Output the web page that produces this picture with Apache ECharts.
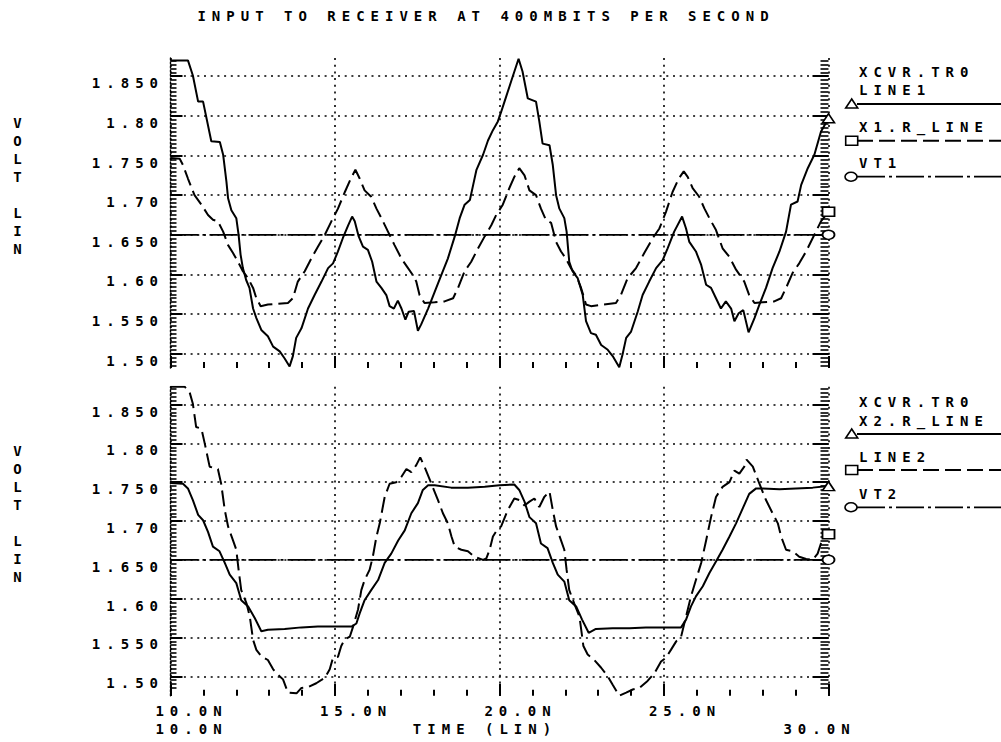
<!DOCTYPE html>
<html><head><meta charset="utf-8">
<script src="https://cdn.jsdelivr.net/npm/echarts@6/dist/echarts.min.js"></script>
<style>
html,body{margin:0;padding:0;background:#fff;}
#chart{width:1001px;height:742px;}
#chart svg text{letter-spacing:6px;}
</style></head><body><div id="chart"></div>
<script>
// ---------- data ----------
const chartTitle = 'INPUT TO RECEIVER AT 400MBITS PER SECOND';
const yAxisName = 'V\nO\nL\nT\n\nL\nI\nN\n\n\n';
const xAxisName = 'TIME (LIN)';
const xMajorVals = [10, 15, 20, 25];
const xMajorLabels = ['10.0N', '15.0N', '20.0N', '25.0N'];
const xStartVal = 10, xStartLabel = '10.0N';
const xEndVal = 30, xEndLabel = '30.0N';
const yTickVals = [1.50, 1.55, 1.60, 1.65, 1.70, 1.75, 1.80, 1.85];
const yTickLabels = ['1.50', '1.550', '1.60', '1.650', '1.70', '1.750', '1.80', '1.850'];
const yRangeTop = [1.482, 1.873];
const yRangeBottom = [1.475, 1.873];
const topNames = ['XCVR.TR0\nLINE1', 'X1.R_LINE', 'VT1'];
const bottomNames = ['XCVR.TR0\nX2.R_LINE', 'LINE2', 'VT2'];

const topLine1 = [[10,1.870],[10.53,1.870],[10.68,1.851],[10.84,1.818],[10.99,1.818],[11.24,1.768],[11.5,1.767],[11.6,1.751],[11.7,1.717],[11.75,1.696],[11.85,1.681],[12.0,1.671],[12.07,1.650],[12.13,1.625],[12.2,1.608],[12.3,1.593],[12.4,1.583],[12.51,1.557],[12.61,1.545],[12.76,1.530],[12.96,1.522],[13.12,1.509],[13.32,1.503],[13.47,1.494],[13.62,1.484],[13.72,1.497],[13.82,1.520],[13.98,1.532],[14.18,1.557],[14.38,1.574],[14.59,1.591],[14.79,1.608],[14.94,1.614],[15.09,1.629],[15.24,1.646],[15.4,1.662],[15.52,1.673],[15.6,1.667],[15.72,1.648],[15.85,1.635],[16.0,1.631],[16.13,1.616],[16.26,1.591],[16.41,1.583],[16.56,1.574],[16.66,1.560],[16.79,1.557],[16.91,1.567],[17.02,1.557],[17.14,1.543],[17.24,1.553],[17.4,1.554],[17.52,1.529],[17.62,1.537],[17.83,1.557],[18.03,1.578],[18.23,1.599],[18.43,1.620],[18.64,1.648],[18.79,1.671],[18.94,1.688],[19.1,1.694],[19.2,1.713],[19.3,1.732],[19.5,1.751],[19.65,1.769],[19.8,1.782],[19.95,1.793],[20.05,1.805],[20.2,1.824],[20.35,1.843],[20.58,1.872],[20.7,1.856],[20.86,1.822],[21.11,1.818],[21.21,1.793],[21.31,1.765],[21.52,1.763],[21.62,1.738],[21.72,1.700],[21.82,1.683],[21.97,1.671],[22.04,1.654],[22.12,1.616],[22.22,1.604],[22.38,1.595],[22.53,1.574],[22.63,1.541],[22.78,1.526],[22.93,1.524],[23.09,1.511],[23.29,1.505],[23.44,1.497],[23.64,1.483],[23.74,1.499],[23.85,1.520],[24.0,1.528],[24.2,1.553],[24.35,1.574],[24.55,1.591],[24.76,1.608],[24.96,1.618],[25.11,1.633],[25.31,1.654],[25.55,1.673],[25.67,1.658],[25.77,1.641],[25.97,1.629],[26.13,1.612],[26.28,1.587],[26.43,1.583],[26.58,1.570],[26.73,1.557],[26.88,1.566],[27.04,1.557],[27.14,1.541],[27.27,1.551],[27.41,1.555],[27.57,1.527],[27.75,1.545],[27.9,1.562],[28.1,1.583],[28.3,1.608],[28.51,1.629],[28.71,1.654],[28.86,1.688],[29.06,1.692],[29.17,1.713],[29.37,1.734],[29.57,1.751],[29.77,1.780],[30,1.797]];

const topX1 = [[10,1.747],[10.28,1.746],[10.38,1.738],[10.53,1.721],[10.73,1.700],[10.94,1.688],[11.14,1.675],[11.29,1.669],[11.44,1.667],[11.6,1.654],[11.75,1.637],[11.9,1.627],[12.05,1.616],[12.2,1.604],[12.36,1.595],[12.51,1.583],[12.61,1.570],[12.74,1.560],[12.96,1.562],[13.27,1.563],[13.57,1.564],[13.72,1.570],[13.87,1.591],[14.08,1.604],[14.28,1.620],[14.48,1.635],[14.69,1.650],[14.89,1.667],[15.09,1.683],[15.3,1.704],[15.48,1.721],[15.62,1.732],[15.75,1.721],[15.9,1.706],[16.1,1.698],[16.26,1.683],[16.41,1.671],[16.61,1.654],[16.81,1.637],[17.02,1.620],[17.22,1.608],[17.37,1.599],[17.47,1.591],[17.57,1.574],[17.72,1.564],[18.03,1.565],[18.33,1.566],[18.59,1.570],[18.74,1.583],[18.94,1.604],[19.14,1.616],[19.35,1.633],[19.55,1.648],[19.75,1.662],[19.9,1.675],[20.1,1.688],[20.3,1.709],[20.45,1.723],[20.6,1.734],[20.76,1.725],[20.91,1.706],[21.11,1.700],[21.26,1.683],[21.41,1.669],[21.57,1.665],[21.72,1.641],[21.87,1.629],[22.02,1.620],[22.17,1.608],[22.33,1.599],[22.48,1.583],[22.63,1.562],[22.78,1.560],[23.14,1.562],[23.54,1.564],[23.69,1.574],[23.89,1.595],[24.15,1.608],[24.4,1.627],[24.66,1.646],[24.86,1.658],[25.06,1.679],[25.26,1.704],[25.45,1.721],[25.6,1.730],[25.72,1.723],[25.87,1.709],[26.07,1.698],[26.23,1.683],[26.38,1.671],[26.58,1.656],[26.78,1.633],[26.99,1.622],[27.19,1.606],[27.44,1.591],[27.59,1.574],[27.75,1.564],[28.0,1.565],[28.35,1.566],[28.56,1.570],[28.71,1.583],[28.91,1.602],[29.11,1.614],[29.32,1.629],[29.57,1.650],[29.77,1.667],[30,1.679]];

const topVT1 = [[10,1.65],[30,1.65]];

const botX2 = [[10,1.749],[10.38,1.748],[10.53,1.742],[10.68,1.727],[10.84,1.708],[10.99,1.701],[11.14,1.686],[11.29,1.667],[11.49,1.661],[11.65,1.646],[11.8,1.631],[12.0,1.620],[12.15,1.598],[12.36,1.590],[12.56,1.575],[12.76,1.558],[12.96,1.560],[13.47,1.561],[13.98,1.563],[14.48,1.564],[15.0,1.564],[15.5,1.564],[15.65,1.568],[15.75,1.581],[15.9,1.598],[16.1,1.611],[16.31,1.624],[16.51,1.646],[16.71,1.658],[16.92,1.675],[17.12,1.688],[17.32,1.710],[17.52,1.723],[17.67,1.740],[17.83,1.746],[18.03,1.746],[18.53,1.743],[19.04,1.743],[19.55,1.744],[20.0,1.746],[20.45,1.747],[20.6,1.740],[20.76,1.725],[20.91,1.705],[21.11,1.697],[21.26,1.671],[21.46,1.665],[21.62,1.646],[21.77,1.631],[21.97,1.622],[22.12,1.598],[22.33,1.590],[22.51,1.573],[22.71,1.556],[22.93,1.561],[23.44,1.562],[23.95,1.562],[24.45,1.563],[24.96,1.563],[25.52,1.563],[25.67,1.573],[25.82,1.590],[25.97,1.603],[26.18,1.616],[26.38,1.633],[26.58,1.648],[26.78,1.663],[26.99,1.680],[27.19,1.697],[27.39,1.716],[27.59,1.735],[27.8,1.742],[28.0,1.742],[28.51,1.741],[29.01,1.742],[29.52,1.743],[30,1.745]];

const botLine2 = [[10,1.873],[10.43,1.873],[10.58,1.866],[10.68,1.851],[10.78,1.821],[10.94,1.819],[11.04,1.800],[11.19,1.770],[11.44,1.767],[11.54,1.748],[11.65,1.714],[11.75,1.693],[11.9,1.675],[12.0,1.663],[12.07,1.637],[12.15,1.611],[12.31,1.594],[12.41,1.577],[12.51,1.547],[12.61,1.534],[12.76,1.526],[12.96,1.521],[13.12,1.509],[13.27,1.502],[13.42,1.496],[13.57,1.479],[13.83,1.478],[13.98,1.485],[14.18,1.486],[14.43,1.491],[14.69,1.498],[14.84,1.509],[14.94,1.524],[15.09,1.525],[15.19,1.539],[15.29,1.547],[15.45,1.551],[15.55,1.564],[15.7,1.586],[15.8,1.611],[15.9,1.624],[16.05,1.637],[16.15,1.654],[16.26,1.680],[16.36,1.697],[16.51,1.731],[16.66,1.748],[16.86,1.750],[17.02,1.757],[17.17,1.767],[17.32,1.763],[17.47,1.772],[17.59,1.782],[17.72,1.770],[17.93,1.748],[18.13,1.727],[18.28,1.710],[18.43,1.697],[18.54,1.680],[18.64,1.667],[18.84,1.663],[19.04,1.661],[19.24,1.654],[19.5,1.650],[19.6,1.652],[19.7,1.663],[19.8,1.680],[19.95,1.690],[20.05,1.693],[20.25,1.714],[20.45,1.729],[20.6,1.727],[20.76,1.720],[20.91,1.725],[21.06,1.729],[21.21,1.718],[21.36,1.731],[21.52,1.738],[21.62,1.714],[21.72,1.693],[21.87,1.675],[21.97,1.663],[22.04,1.637],[22.12,1.611],[22.27,1.594],[22.43,1.577],[22.55,1.539],[22.68,1.528],[22.88,1.521],[23.09,1.511],[23.29,1.500],[23.44,1.489],[23.64,1.475],[23.85,1.479],[24.05,1.483],[24.25,1.485],[24.5,1.494],[24.71,1.504],[24.91,1.519],[25.06,1.524],[25.21,1.534],[25.37,1.545],[25.52,1.551],[25.67,1.577],[25.82,1.603],[25.97,1.624],[26.13,1.646],[26.28,1.675],[26.43,1.705],[26.58,1.731],[26.78,1.744],[26.99,1.750],[27.14,1.765],[27.29,1.761],[27.44,1.770],[27.51,1.779],[27.7,1.770],[27.9,1.748],[28.1,1.727],[28.3,1.710],[28.46,1.697],[28.56,1.680],[28.71,1.663],[28.91,1.661],[29.11,1.654],[29.32,1.651],[29.52,1.650],[29.67,1.658],[29.77,1.671],[29.87,1.680],[30,1.683]];

const botVT2 = [[10,1.65],[30,1.65]];

// ---------- styling ----------
const FONT = 'DejaVu Sans Mono';
const FONTCSS = 'bold 14px "DejaVu Sans Mono"';
const BLACK = '#000';
const txt = {fontFamily: FONT, fontWeight: 'bold', fontSize: 14, color: BLACK};
const dotted = {color: BLACK, width: 1.6, type: [2, 4.7]};
const SOLID = {color: BLACK, width: 2, type: 'solid'};
const DASH = {color: BLACK, width: 2, type: [16, 6]};
const DASHDOT = {color: BLACK, width: 1.8, type: [28, 4, 3, 4]};

const yMinorVals = [];
for (let k = 297; k <= 374; k++) yMinorVals.push(+(k * 0.005).toFixed(3));

function fmtY(v) {
  for (let i = 0; i < yTickVals.length; i++) if (Math.abs(v - yTickVals[i]) < 1e-6) return yTickLabels[i];
  return '';
}
function fmtX(v) {
  for (let i = 0; i < xMajorVals.length; i++) if (Math.abs(v - xMajorVals[i]) < 1e-6) return xMajorLabels[i];
  return '';
}

const GRID_L = 170.5, GRID_W = 658;
const grids = [
  {left: GRID_L, top: 58, width: GRID_W, height: 310, outerBoundsMode: 'none', containLabel: false},
  {left: GRID_L, top: 386.7, width: GRID_W, height: 309, outerBoundsMode: 'none', containLabel: false}
];

function xAxesFor(g, withLabels) {
  const base = {gridIndex: g, type: 'value', min: 10, max: 30, position: 'bottom',
    axisLine: {show: false, onZero: false}, splitLine: {show: false}, axisLabel: {show: false}};
  const minor = Object.assign({}, base, {interval: 1,
    axisTick: {show: true, inside: true, length: 6, lineStyle: {color: BLACK, width: 2}}});
  const major = Object.assign({}, base, {interval: 5,
    axisTick: {show: true, inside: true, length: 12, lineStyle: {color: BLACK, width: 2}},
    splitLine: {show: true, lineStyle: dotted}});
  if (withLabels) {
    major.axisLabel = Object.assign({show: true, customValues: xMajorVals, formatter: fmtX,
      margin: 8, padding: [0, 0, 0, 42]}, txt);
    major.name = xAxisName;
    major.nameLocation = 'middle';
    major.nameGap = 26;
    major.nameMoveOverlap = false;
    major.nameTextStyle = Object.assign({padding: [0, 29, 0, 0]}, txt);
  }
  return [minor, major];
}
function xRow2(g, val, label, pad) {
  return {gridIndex: g, type: 'value', min: 10, max: 30, position: 'bottom',
    axisLine: {show: false, onZero: false}, axisTick: {show: false}, splitLine: {show: false},
    axisLabel: Object.assign({show: true, customValues: [val], formatter: () => label,
      margin: 26, padding: pad}, txt)};
}
function yAxesFor(g, range) {
  const base = {gridIndex: g, type: 'value', min: range[0], max: range[1],
    splitLine: {show: false}, axisLabel: {show: false}, axisLine: {show: false}};
  return [
    Object.assign({}, base, {position: 'left',
      axisLine: {show: true, lineStyle: {color: BLACK, width: 1.4, type: [2, 2]}},
      axisTick: {show: true, inside: true, length: 12, customValues: yTickVals, lineStyle: {color: BLACK, width: 2}},
      axisLabel: Object.assign({show: true, customValues: yTickVals, formatter: fmtY, margin: 6.5,
        verticalAlign: 'top'}, txt),
      splitLine: {show: true, lineStyle: dotted},
      name: yAxisName, nameLocation: 'middle', nameGap: 150, nameRotate: 0, nameMoveOverlap: false,
      nameTextStyle: Object.assign({align: 'center', verticalAlign: 'middle', lineHeight: 18}, txt)}),
    Object.assign({}, base, {position: 'left',
      axisTick: {show: true, inside: true, length: 6, customValues: yMinorVals, lineStyle: {color: BLACK, width: 1.6}}}),
    Object.assign({}, base, {position: 'right',
      axisTick: {show: true, inside: true, length: 16, customValues: yTickVals, lineStyle: {color: BLACK, width: 2}}}),
    Object.assign({}, base, {position: 'right',
      axisTick: {show: true, inside: true, length: 8, customValues: yMinorVals, lineStyle: {color: BLACK, width: 1.6}}})
  ];
}

const xAxes = [].concat(
  xAxesFor(0, false),                      // 0,1
  xAxesFor(1, true),                       // 2,3
  [xRow2(1, xStartVal, xStartLabel, [0, 0, 0, 42]),   // 4
   xRow2(1, xEndVal, xEndLabel, [0, 18, 0, 0])]       // 5
);
const yAxes = [].concat(yAxesFor(0, yRangeTop), yAxesFor(1, yRangeBottom)); // 0-3, 4-7

function mk(name, data, xi, yi, lineStyle, sym) {
  return {
    type: 'line', name: name, xAxisIndex: xi, yAxisIndex: yi, symbol: 'none', showSymbol: true,
    silent: true, animation: false, lineStyle: lineStyle, z: 3,
    data: data.map((p, i) => i === data.length - 1
      ? {value: p, symbol: sym, symbolSize: [12, 9],
         itemStyle: {color: '#fff', borderColor: BLACK, borderWidth: 1.6}}
      : p)
  };
}

const series = [
  mk(topNames[0], topLine1, 1, 0, SOLID, 'triangle'),
  mk(topNames[1], topX1, 1, 0, DASH, 'rect'),
  mk(topNames[2], topVT1, 1, 0, DASHDOT, 'circle'),
  mk(bottomNames[0], botX2, 3, 4, SOLID, 'triangle'),
  mk(bottomNames[1], botLine2, 3, 4, DASH, 'rect'),
  mk(bottomNames[2], botVT2, 3, 4, DASHDOT, 'circle')
];

// ---------- legend (drawn as graphics, right side) ----------
function legendBlock(names, ys) {
  const els = [];
  const styles = [SOLID, DASH, DASHDOT];
  const shapes = ['triangle', 'rect', 'circle'];
  for (let i = 0; i < 3; i++) {
    const ty = ys[i][0], my = ys[i][1];
    els.push({type: 'text', x: 859, y: ty, silent: true,
      style: {text: names[i], fill: BLACK, font: FONTCSS, align: 'left', verticalAlign: 'middle', lineHeight: 18.4}});
    const ls = styles[i];
    els.push({type: 'line', silent: true, shape: {x1: 857, y1: my, x2: 1001, y2: my},
      style: {stroke: BLACK, lineWidth: ls.width, lineDash: Array.isArray(ls.type) ? ls.type : null}});
    const mst = {fill: '#fff', stroke: BLACK, lineWidth: 1.6};
    if (shapes[i] === 'triangle') {
      els.push({type: 'polygon', silent: true, shape: {points: [[845.7, my + 4], [857.7, my + 4], [851.7, my - 5]]}, style: mst, z: 10});
    } else if (shapes[i] === 'rect') {
      els.push({type: 'rect', silent: true, shape: {x: 845.7, y: my - 4.5, width: 12, height: 9}, style: mst, z: 10});
    } else {
      els.push({type: 'ellipse', silent: true, shape: {cx: 851, cy: my, rx: 6, ry: 4.5}, style: mst, z: 10});
    }
  }
  return els;
}
const graphics = [].concat(
  legendBlock(topNames, [[80.9, 104], [126.7, 140.7], [163.3, 176.7]]),
  legendBlock(bottomNames, [[411.5, 434], [457.3, 470], [494, 507.3]])
);

const chart = echarts.init(document.getElementById('chart'), null, {renderer: 'svg', width: 1001, height: 742});
chart.setOption({
  backgroundColor: '#fff',
  animation: false,
  title: {text: chartTitle, left: 486, top: 0, textAlign: 'center', padding: [9, 0, 5, 0],
    textStyle: Object.assign({}, txt)},
  grid: grids,
  xAxis: xAxes,
  yAxis: yAxes,
  series: series,
  graphic: graphics
});
</script></body></html>
